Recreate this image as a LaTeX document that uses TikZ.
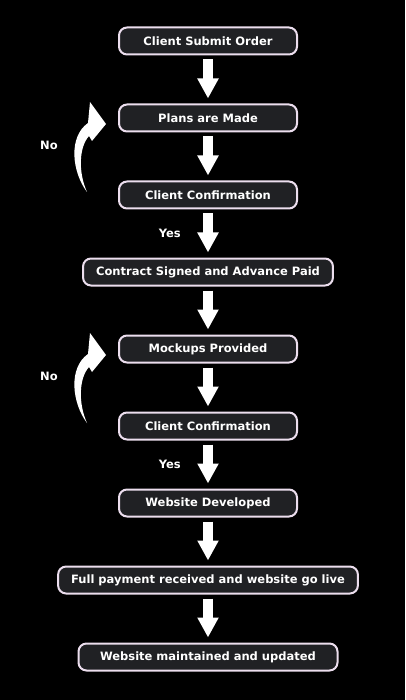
\documentclass[tikz,border=0pt]{standalone}
\usepackage{fontspec}
\setmainfont{DejaVu Sans}
\usetikzlibrary{arrows.meta,positioning}
\definecolor{boxfill}{RGB}{32,33,36}
\definecolor{boxline}{RGB}{236,222,238}
\tikzset{
	x=1pt, y=-1pt, % pixel-like coordinates, y runs down
	node distance=77pt,
	on grid,
	>={Triangle[width=20pt,length=20pt]}, % makes the arrow heads big and flat
	every node/.style={text=white, font=\bfseries\fontsize{11.5}{14}\selectfont},
	stage/.style={draw=boxline, fill=boxfill, line width=2pt, rounded corners=8pt,
		minimum width=178pt, minimum height=27pt, inner xsep=13pt},
	flow/.style={->, draw=white, line width=10pt, shorten <=4pt, shorten >=5pt},
	loopback/.pic={
		\fill[white] (-19,68) .. controls (-34,48) and (-38,13) .. (-18,-1)
			-- (-16,-22) -- (0,0) -- (-14,17) -- (-17,12)
			.. controls (-27,23) and (-28,48) .. (-19,68) -- cycle;
		\node (-no) at (-57,21) {No};
	},
}

\begin{document}
\begin{tikzpicture}
	\useasboundingbox (0,0) rectangle (405,700);
	\fill[black] (0,0) rectangle (405,700);

	\node[stage] (1) at (208,41) {Client Submit Order};
	\node[stage, below of=1] (2) {Plans are Made};
	\node[stage, below of=2] (3) {Client Confirmation};
	\node[stage, below of=3] (4) {Contract Signed and Advance Paid};
	\node[stage, below of=4] (5) {Mockups Provided};
	\node[stage, below of=5] (6) {Client Confirmation};
	\node[stage, below of=6] (7) {Website Developed};
	\node[stage, below of=7] (8) {Full payment received and website go live};
	\node[stage, below of=8, minimum width=259pt] (9) {Website maintained and updated};

	\draw (1) edge[flow] (2);
	\draw (2) edge[flow] (3);
	\draw (3) edge[flow] node[left=19pt]{Yes} (4);
	\draw (4) edge[flow] (5);
	\draw (5) edge[flow] (6);
	\draw (6) edge[flow] node[left=19pt]{Yes} (7);
	\draw (7) edge[flow] (8);
	\draw (8) edge[flow] (9);

	\pic (loop1) at ([shift={(-12,6)}]2.west) {loopback};
	\pic (loop2) at ([shift={(-12,6)}]5.west) {loopback};
\end{tikzpicture}
\end{document}
